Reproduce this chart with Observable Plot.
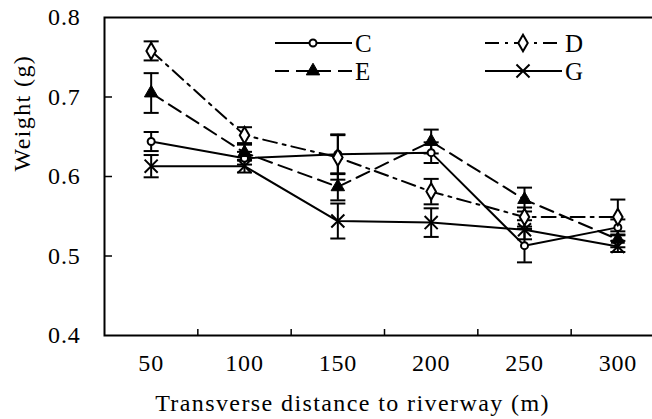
<!DOCTYPE html>
<html><head><meta charset="utf-8">
<script src="https://cdn.jsdelivr.net/npm/d3@7"></script>
<script src="https://cdn.jsdelivr.net/npm/@observablehq/plot@0.6"></script>
<style>
html,body{margin:0;padding:0;background:#fff;overflow:hidden;}
#wrap{position:relative;width:652px;height:419px;overflow:hidden;}
#wrap svg text{font-family:"Liberation Serif","Times New Roman",serif;}
#wrap g[aria-label="text"] text{letter-spacing:1.4px;}
#wrap g[aria-label="y-axis tick label"] text,#wrap g[aria-label="x-axis tick label"] text{letter-spacing:0.8px;}
#legend{position:absolute;left:0;top:0;}
</style></head><body><div id="wrap"></div>
<script>
const distances = [50, 100, 150, 200, 250, 300];
const bandBounds = [75, 125, 175, 225, 275];
const yTicks = [0.4, 0.5, 0.6, 0.7, 0.8];
const seriesNames = ["C", "D", "E", "G"];
const valuesC = [0.644, 0.623, 0.628, 0.630, 0.513, 0.536];
const errC    = [0.012, 0.008, 0.025, 0.013, 0.021, 0.010];
const valuesD = [0.758, 0.652, 0.624, 0.581, 0.549, 0.549];
const errD    = [0.012, 0.010, 0.028, 0.016, 0.012, 0.022];
const valuesE = [0.705, 0.630, 0.587, 0.644, 0.571, 0.521];
const errE    = [0.025, 0.010, 0.017, 0.015, 0.015, 0.010];
const valuesG = [0.613, 0.613, 0.544, 0.542, 0.533, 0.512];
const errG    = [0.014, 0.008, 0.022, 0.018, 0.012, 0.007];
const xTitle = "Transverse distance to riverway (m)";
const yTitle = "Weight (g)";

const capSymbol = {draw(ctx, size) { const w = Math.sqrt(size) / 2; ctx.moveTo(-w, 0); ctx.lineTo(w, 0); }};

const styles = {
  C: {dash: null, symbol: "circle", fill: "white", r: 3.5},
  D: {dash: "14,6,3,6", symbol: "diamond", fill: "white", r: 5},
  E: {dash: "14,7", symbol: "triangle", fill: "black", r: 5},
  G: {dash: null, symbol: "times", fill: "none", r: 6}
};
const rawValues = {C: valuesC, D: valuesD, E: valuesE, G: valuesG};
const rawErr = {C: errC, D: errD, E: errE, G: errG};
const rows = [];
for (const s of seriesNames) distances.forEach((x, i) => rows.push({series: s, x, y: rawValues[s][i], err: rawErr[s][i]}));

const FS = 24;
const marks = [];
for (const s of seriesNames) {
  const data = rows.filter(d => d.series === s);
  marks.push(Plot.line(data, {x: "x", y: "y", stroke: "black", strokeWidth: 2, strokeDasharray: styles[s].dash}));
}
marks.push(Plot.ruleX(rows, {x: "x", y1: d => d.y - d.err, y2: d => d.y + d.err, stroke: "black", strokeWidth: 2}));
marks.push(Plot.dot(rows, {x: "x", y: d => d.y + d.err, symbol: capSymbol, r: 8.5, stroke: "black", strokeWidth: 2}));
marks.push(Plot.dot(rows, {x: "x", y: d => d.y - d.err, symbol: capSymbol, r: 8.5, stroke: "black", strokeWidth: 2}));
for (const s of seriesNames) {
  const data = rows.filter(d => d.series === s);
  const st = styles[s];
  marks.push(Plot.dot(data, {x: "x", y: "y", symbol: st.symbol, r: st.r, fill: st.fill, stroke: "black", strokeWidth: s === "E" ? 1 : 2}));
}
marks.push(Plot.frame({stroke: "black", strokeWidth: 2}));
marks.push(Plot.axisY({ticks: yTicks, tickSize: 0, tickPadding: 24, tickFormat: d3.format(".1f"), fontSize: FS, label: null}));
marks.push(Plot.axisY({ticks: [0.5, 0.6, 0.7], tickSize: -8, tickFormat: () => "", label: null, strokeWidth: 1.5}));
marks.push(Plot.axisX({ticks: distances, tickSize: 0, tickPadding: 18, tickFormat: d => String(d), fontSize: FS, label: null}));
marks.push(Plot.axisX({ticks: bandBounds, tickSize: -6, tickFormat: () => "", label: null, strokeWidth: 1.5}));
marks.push(Plot.text([xTitle], {frameAnchor: "bottom", dx: -32, dy: 75, fontSize: FS, fill: "black"}));
marks.push(Plot.text([yTitle], {frameAnchor: "left", dx: -82, dy: -5, rotate: -90, fontSize: FS, fill: "black"}));

const chart = Plot.plot({
  width: 652, height: 419,
  marginLeft: 104, marginRight: -12, marginTop: 17, marginBottom: 84,
  x: {domain: [25, 325]},
  y: {domain: [0.4, 0.8]},
  style: {background: "white", color: "black", fontFamily: "Liberation Serif"},
  marks
});
document.getElementById("wrap").appendChild(chart);

// legend overlay
const legendLayout = {C: {x: 275, y: 43}, D: {x: 485, y: 43}, E: {x: 275, y: 71}, G: {x: 485, y: 71}};
const lsvg = d3.select("#wrap").append("svg").attr("id", "legend").attr("width", 652).attr("height", 100);
for (const s of seriesNames) {
  const p = legendLayout[s], st = styles[s];
  const g = lsvg.append("g").attr("transform", `translate(${p.x},${p.y})`);
  g.append("line").attr("x1", 0).attr("x2", 77).attr("stroke", "black").attr("stroke-width", 2).attr("stroke-dasharray", st.dash);
  const symType = {circle: d3.symbolCircle, diamond: d3.symbolDiamond, triangle: d3.symbolTriangle, times: d3.symbolTimes}[st.symbol];
  g.append("path").attr("transform", "translate(38,0)").attr("d", d3.symbol(symType, Math.PI * st.r * st.r)())
    .attr("fill", st.fill).attr("stroke", "black").attr("stroke-width", s === "E" ? 1 : 2);
  g.append("text").attr("x", 80).attr("y", 0).attr("dy", "0.35em").attr("font-size", FS + 1).text(s);
}
</script></body></html>
